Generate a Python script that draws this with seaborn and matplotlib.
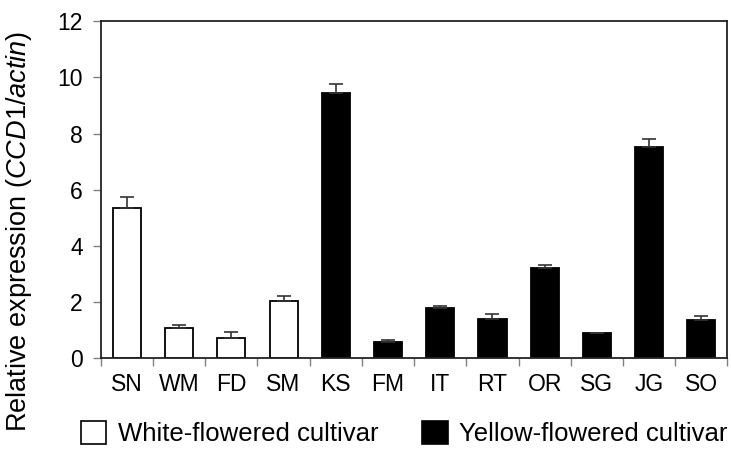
import numpy as np
import pandas as pd
import seaborn as sns
import matplotlib.pyplot as plt
from matplotlib.patches import Patch

# data
cultivars = ["SN", "WM", "FD", "SM", "KS", "FM", "IT", "RT", "OR", "SG", "JG", "SO"]
groups = ["White", "White", "White", "White", "Yellow", "Yellow",
          "Yellow", "Yellow", "Yellow", "Yellow", "Yellow", "Yellow"]
expression = [5.35, 1.07, 0.72, 2.05, 9.45, 0.57, 1.80, 1.40, 3.20, 0.88, 7.52, 1.37]
errors = [0.40, 0.12, 0.21, 0.17, 0.32, 0.07, 0.07, 0.18, 0.13, 0.03, 0.30, 0.14]
legend_labels = ["White-flowered cultivar", "Yellow-flowered cultivar"]

sns.set_theme(style="ticks")
plt.rcParams["font.family"] = ["Liberation Sans", "DejaVu Sans"]
plt.rcParams["mathtext.fontset"] = "custom"
plt.rcParams["mathtext.rm"] = "Liberation Sans"
plt.rcParams["mathtext.it"] = "Liberation Sans:italic"
plt.rcParams["text.color"] = "black"
plt.rcParams["axes.labelcolor"] = "black"
plt.rcParams["xtick.labelcolor"] = "black"
plt.rcParams["ytick.labelcolor"] = "black"

df = pd.DataFrame({"cultivar": cultivars, "group": groups,
                   "value": expression, "err": errors})

fig = plt.figure(figsize=(7.31, 4.5), dpi=100)
ax = fig.add_axes([0.138, 0.204, 0.857, 0.749])

sns.barplot(data=df, x="cultivar", y="value", hue="group",
            palette={"White": "white", "Yellow": "black"},
            edgecolor="black", linewidth=1.3, width=0.54,
            dodge=False, legend=False, ax=ax)

# upper error bars only
xpos = np.arange(len(cultivars))
ax.errorbar(xpos, df["value"], yerr=[np.zeros(len(errors)), df["err"]],
            fmt="none", ecolor="#333333", elinewidth=1.2, capsize=5, capthick=1.2)

ax.set_ylim(0, 12)
ax.set_yticks(range(0, 13, 2))
ax.set_xlim(-0.5, len(cultivars) - 0.5)

# ticks at category boundaries, labels at centers
ax.set_xticks(np.arange(-0.5, len(cultivars), 1.0))
ax.set_xticklabels([])
ax.set_xticks(xpos, minor=True)
ax.set_xticklabels(cultivars, minor=True)
ax.tick_params(axis="x", which="major", length=6, color="#808080", width=1)
ax.tick_params(axis="x", which="minor", length=0, pad=11, labelsize=16.5)
ax.tick_params(axis="y", length=6, color="#808080", width=1, pad=7, labelsize=16.5)

for side in ["left", "bottom", "top", "right"]:
    ax.spines[side].set_visible(True)
    ax.spines[side].set_color("#222222")
    ax.spines[side].set_linewidth(1.3)

ax.set_xlabel("")
ax.set_ylabel(r"Relative expression ($\mathit{CCD1/actin}$)", fontsize=19.5)
ax.yaxis.set_label_coords(-0.106, 0.375)

handles = [Patch(facecolor="white", edgecolor="black", linewidth=1.2),
           Patch(facecolor="black", edgecolor="black", linewidth=1.2)]
fig.legend(handles, legend_labels, ncol=2, loc="center",
           bbox_to_anchor=(0.553, 0.036), frameon=False, fontsize=18.5,
           handlelength=1.0, handleheight=1.0, handletextpad=0.45,
           columnspacing=1.7, borderpad=0)

plt.savefig("out.png", dpi=100)
plt.close(fig)
